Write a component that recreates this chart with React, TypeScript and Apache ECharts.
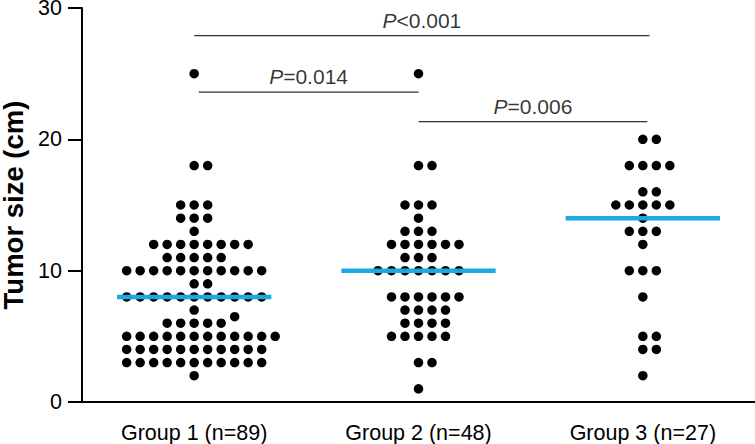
import React, { useEffect, useRef } from "react";
import * as echarts from "echarts";

const groupNames = ["Group 1 (n=89)", "Group 2 (n=48)", "Group 3 (n=27)"];

// value levels and number of patients at each level
const g1Levels = [25, 18, 15, 14, 13, 12, 11, 10, 9, 8, 7, 6.5, 6, 5, 4, 3, 2];
const g1Counts = [1, 2, 3, 3, 1, 8, 5, 11, 2, 11, 1, 1, 5, 12, 11, 11, 1];
const g2Levels = [25, 18, 15, 14, 13, 12, 11, 10, 8, 7, 6, 5, 3, 1];
const g2Counts = [1, 2, 3, 1, 3, 6, 3, 7, 6, 4, 4, 5, 2, 1];
const g3Levels = [20, 18, 16, 15, 14, 13, 12, 10, 8, 5, 4, 2];
const g3Counts = [2, 4, 2, 5, 1, 3, 1, 3, 1, 2, 2, 1];

const medians = [8, 10, 14];

const yTicks = [0, 10, 20, 30];

// significance brackets
const bracketFrom = [1.0, 1.02, 2.0];
const bracketTo = [3.03, 2.0, 3.02];
const bracketY = [27.9, 23.6, 21.35];
const bracketP = ["<0.001", "=0.014", "=0.006"];

const FONT = "'Liberation Sans', Arial, Helvetica, sans-serif";

function expand(levels: number[], counts: number[]): number[] {
  const out: number[] = [];
  levels.forEach((v, i) => {
    for (let k = 0; k < counts[i]; k++) out.push(v);
  });
  return out.sort((a, b) => a - b);
}

// simple beeswarm: each dot takes the first free slot 0, +1, -1, +2, -2 ...
function swarm(values: number[], center: number, slotW: number, thr: number) {
  const placed: { v: number; s: number }[] = [];
  const pts: number[][] = [];
  values.forEach((v) => {
    let k = 0;
    while (true) {
      const s = k === 0 ? 0 : k % 2 === 1 ? (k + 1) / 2 : -k / 2;
      const hit = placed.some((p) => p.s === s && Math.abs(p.v - v) < thr);
      if (!hit) {
        placed.push({ v, s });
        pts.push([center + s * slotW, v]);
        break;
      }
      k++;
    }
  });
  return pts;
}

export default function App() {
  const ref = useRef<HTMLDivElement>(null);

  useEffect(() => {
    if (!ref.current) return;
    const chart = echarts.init(ref.current, null, { renderer: "svg" });

    const slotW = 13.5 / 224.3;
    const thr = 0.71;
    const groups = [
      expand(g1Levels, g1Counts),
      expand(g2Levels, g2Counts),
      expand(g3Levels, g3Counts),
    ];
    const dots = groups.flatMap((vals, i) => swarm(vals, i + 1, slotW, thr));

    const medianSeries = medians.map((m, i) => ({
      type: "line",
      xAxisIndex: 1,
      yAxisIndex: 0,
      data: [
        [i + 1 - 0.344, m],
        [i + 1 + 0.344, m],
      ],
      symbol: "none",
      lineStyle: { color: "#1AA9E1", width: 4.5 },
      z: 5,
      silent: true,
    }));

    const bracketSeries = bracketY.map((y, i) => ({
      type: "line",
      xAxisIndex: 1,
      yAxisIndex: 0,
      data: [
        [bracketFrom[i], y],
        [bracketTo[i], y],
      ],
      symbol: "none",
      lineStyle: { color: "#333", width: 1.3 },
      z: 3,
      silent: true,
    }));

    const pLabels = {
      type: "scatter",
      xAxisIndex: 1,
      yAxisIndex: 0,
      symbolSize: 0,
      silent: true,
      data: bracketY.map((y, i) => ({
        value: [(bracketFrom[i] + bracketTo[i]) / 2, y],
        label: {
          show: true,
          position: "top",
          distance: 5,
          formatter: "{i|P}{n|" + bracketP[i] + "}",
          rich: {
            i: { fontStyle: "italic", fontSize: 21, fontFamily: FONT, color: "#000" },
            n: { fontSize: 21, fontFamily: FONT, color: "#000" },
          },
        },
      })),
    };

    chart.setOption({
      animation: false,
      backgroundColor: "#fff",
      grid: { left: 82, right: 0, top: 8, bottom: 42, containLabel: false, outerBoundsMode: "none" },
      xAxis: [
        {
          type: "category",
          data: groupNames,
          boundaryGap: true,
          axisLine: { lineStyle: { color: "#000", width: 2 } },
          axisTick: { alignWithLabel: true, length: 12, lineStyle: { color: "#000", width: 2 } },
          axisLabel: { color: "#000", fontSize: 21.5, fontFamily: FONT, margin: 20 },
          splitLine: { show: false },
        },
        {
          type: "value",
          min: 0.5,
          max: 3.5,
          show: false,
        },
      ],
      yAxis: {
        type: "value",
        min: yTicks[0],
        max: yTicks[yTicks.length - 1],
        interval: 10,
        name: "Tumor size (cm)",
        nameLocation: "middle",
        nameGap: 59,
        nameTextStyle: {
          color: "#000",
          fontSize: 27.5,
          fontWeight: "bold",
          fontFamily: FONT,
          lineHeight: 20,
        },
        axisLine: { show: true, lineStyle: { color: "#000", width: 2 } },
        axisTick: { show: true, length: 14, lineStyle: { color: "#000", width: 2 } },
        axisLabel: { color: "#000", fontSize: 21.5, fontFamily: FONT, margin: 20, lineHeight: 16 },
        splitLine: { show: false },
      },
      series: [
        {
          type: "scatter",
          xAxisIndex: 1,
          yAxisIndex: 0,
          data: dots,
          symbol: "circle",
          symbolSize: 9.5,
          itemStyle: { color: "#000", opacity: 1 },
          z: 4,
          silent: true,
        },
        ...medianSeries,
        ...bracketSeries,
        pLabels,
      ],
    });

    return () => chart.dispose();
  }, []);

  return (
    <div
      ref={ref}
      style={{ position: "fixed", left: 0, top: 0, width: 755, height: 444, background: "#fff" }}
    />
  );
}
